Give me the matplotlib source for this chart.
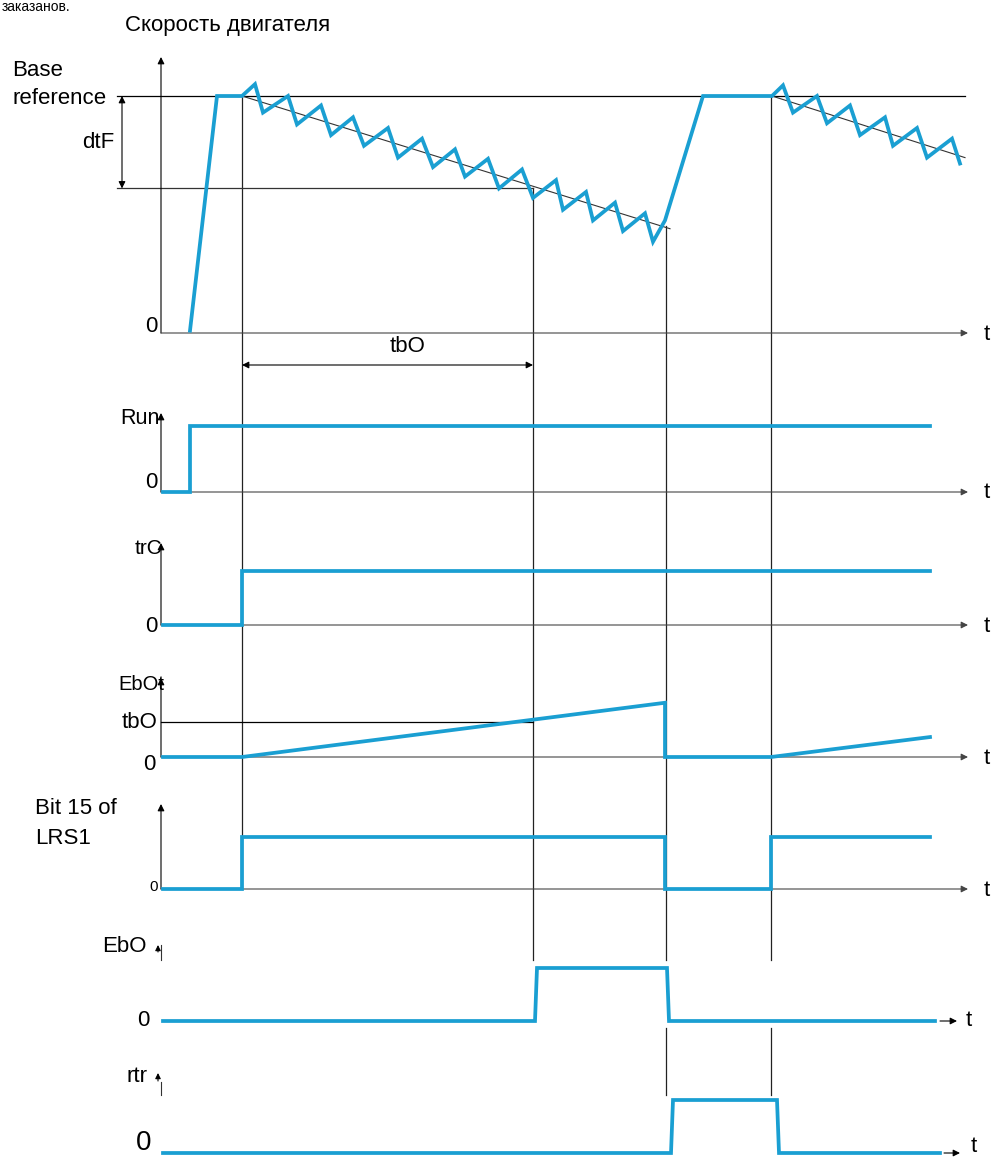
import matplotlib
matplotlib.use("Agg")
import matplotlib.pyplot as plt

plt.rcParams['font.family'] = ['Liberation Sans', 'DejaVu Sans']

# --- данные (время в условных единицах по оси t) ---
t_start = 190      # пуск
t_brake = 242      # начало торможения (trC)
t_tbo = 533        # истекло время tbO
t_reset = 665      # сброс
t_run2 = 771       # повторный старт
t_end = 930

# скорость двигателя, % от Base reference
speed_t = [190, 217, 242, 255, 263, 288, 297, 321, 331, 353, 364, 388, 398, 422, 433,
           455, 465, 488, 499, 522, 533, 556, 563, 586, 593, 615, 623, 645, 653, 665,
           703, 772, 783, 793, 817, 827, 850, 860, 885, 893, 917, 927, 952, 960]
speed_v = [1, 100, 100, 105, 93, 100, 88, 96, 83.5, 91, 79, 86.5, 74, 82, 70,
           77.5, 66, 73.5, 61, 69, 57, 64.5, 52, 59.5, 47.5, 55, 43, 50.5, 38.5, 47.5,
           100, 100, 104.5, 93, 100, 88.5, 96, 83.5, 91, 79, 86.5, 74, 82, 71.5]
trend1_t = [242, 670]
trend1_v = [100, 44]
trend2_t = [772, 965]
trend2_v = [100, 74]
dtf_level = 61

run_t = [163, t_start, t_start, t_end]
run_v = [0, 0, 1, 1]
trc_t = [163, t_brake, t_brake, t_end]
trc_v = [0, 0, 1, 1]
ebot_t = [163, t_brake, t_reset, t_reset, t_run2, t_end]
ebot_v = [0, 0, 1.55, 0, 0, 0.57]     # 1.0 = tbO
bit15_t = [163, t_brake, t_brake, t_reset, t_reset, t_run2, t_run2, t_end]
bit15_v = [0, 0, 1, 1, 0, 0, 1, 1]
ebo_t = [163, 535, 537, 667, 669, 935]
ebo_v = [0, 0, 1, 1, 0, 0]
rtr_t = [163, 671, 673, 777, 779, 940]
rtr_v = [0, 0, 1, 1, 0, 0]

# --- раскладка панелей (пиксели) ---
BLUE = '#1a9fd2'
LW = 2.7
AX = 161
SP0, SP_SCALE = 333, 2.37
FS = 16

fig = plt.figure(figsize=(9.93, 11.6), dpi=100)
ax = fig.add_axes([0, 0, 1, 1])
ax.set_xlim(0, 993)
ax.set_ylim(1160, 0)
ax.axis('off')


def arrow(x0, y0, x1, y1, color='black', lw=0.8, ms=10):
    ax.annotate('', xy=(x1, y1), xytext=(x0, y0),
                arrowprops=dict(arrowstyle='-|>', color=color, lw=lw,
                                mutation_scale=ms, shrinkA=0, shrinkB=0))


def darrow(x0, y0, x1, y1):
    ax.annotate('', xy=(x1, y1), xytext=(x0, y0),
                arrowprops=dict(arrowstyle='<|-|>', color='black', lw=0.8,
                                mutation_scale=10, shrinkA=0, shrinkB=0))


def sp(v):
    return [SP0 - s * SP_SCALE for s in v]


# вертикальные линии событий
vl = dict(color='#222222', lw=0.9, zorder=1)
ax.plot([t_brake, t_brake], [96, 889], **vl)
ax.plot([t_tbo, t_tbo], [sp([dtf_level])[0], 960], **vl)
ax.plot([t_reset + 1, t_reset + 1], [226, 960], **vl)
ax.plot([t_reset + 1, t_reset + 1], [1028, 1095], **vl)
ax.plot([t_run2, t_run2], [96, 960], **vl)
ax.plot([t_run2, t_run2], [1028, 1095], **vl)

# --- скорость ---
ax.text(2, 0, 'заказанов.', fontsize=10, va='top', ha='left')
ax.text(125, 25, 'Скорость двигателя', fontsize=FS, va='center', ha='left')
ax.text(12, 70, 'Base', fontsize=FS, va='center', ha='left')
ax.text(12, 99, 'reference', fontsize=FS, va='center', ha='left')
ax.plot([117, 965], sp([100, 100]), color='black', lw=0.9)
ax.plot([117, t_tbo], sp([dtf_level, dtf_level]), color='#333333', lw=0.9)
darrow(122, sp([100])[0], 122, sp([dtf_level])[0])
ax.text(114, 142, 'dtF', fontsize=FS, va='center', ha='right')
arrow(AX, SP0, AX, 57)
arrow(AX, SP0, 968, SP0, color='#444444')
ax.text(158, 326, '0', fontsize=FS, va='center', ha='right')
ax.text(984, 334, 't', fontsize=FS, va='center', ha='left')
ax.plot(trend1_t, sp(trend1_v), color='#333333', lw=0.8, zorder=2)
ax.plot(trend2_t, sp(trend2_v), color='#333333', lw=0.8, zorder=2)
ax.plot(speed_t, sp(speed_v), color=BLUE, lw=LW, zorder=3, solid_joinstyle='miter')

darrow(t_brake, 365, t_tbo, 365)
ax.text(408, 347, 'tbO', fontsize=FS, va='center', ha='center')


def panel(t, v, zero, high, top):
    arrow(AX, zero, AX, top)
    arrow(AX, zero, 968, zero, color='#444444')
    ax.plot(t, [zero - s * (zero - high) for s in v], color=BLUE, lw=LW,
            zorder=3, solid_joinstyle='miter')
    ax.text(984, zero + 1, 't', fontsize=FS, va='center', ha='left')


# Run
panel(run_t, run_v, 492, 426, 413)
ax.text(160, 418, 'Run', fontsize=15.5, va='center', ha='right')
ax.text(157, 482, '0', fontsize=FS, va='center', ha='right')

# trC
panel(trc_t, trc_v, 625, 571, 543)
ax.text(162, 549, 'trC', fontsize=15, va='center', ha='right')
ax.text(157, 626, '0', fontsize=FS, va='center', ha='right')

# EbOt
ax.plot([AX, t_tbo], [722, 722], color='black', lw=0.9)
panel(ebot_t, ebot_v, 757, 722, 678)
ax.text(164, 684, 'EbOt', fontsize=14.5, va='center', ha='right')
ax.text(158, 722, 'tbO', fontsize=FS, va='center', ha='right')
ax.text(156, 764, '0', fontsize=FS, va='center', ha='right')

# Bit 15 of LRS1
panel(bit15_t, bit15_v, 889, 837, 804)
ax.text(35, 809, 'Bit 15 of', fontsize=FS, va='center', ha='left')
ax.text(35, 838, 'LRS1', fontsize=FS, va='center', ha='left')
ax.text(158, 887, '0', fontsize=11, va='center', ha='right')

# EbO
ax.plot(ebo_t, [1021 - s * 53 for s in ebo_v], color=BLUE, lw=LW, zorder=3,
        solid_joinstyle='miter')
arrow(940, 1021, 957, 1021)
ax.plot([AX, AX], [945, 960], color='#333333', lw=0.8)
arrow(158, 952, 158, 945, ms=8)
ax.text(147, 947, 'EbO', fontsize=FS, va='center', ha='right')
ax.text(149, 1020, '0', fontsize=FS, va='center', ha='right')
ax.text(966, 1020, 't', fontsize=FS, va='center', ha='left')

# rtr
ax.plot(rtr_t, [1153 - s * 53 for s in rtr_v], color=BLUE, lw=LW, zorder=3,
        solid_joinstyle='miter')
arrow(944, 1153, 960, 1153)
ax.plot([AX, AX], [1082, 1095], color='#333333', lw=0.8)
arrow(158, 1081, 158, 1073, ms=8)
ax.text(147, 1076, 'rtr', fontsize=FS, va='center', ha='right')
ax.text(151, 1143, '0', fontsize=20, va='center', ha='right')
ax.text(971, 1147, 't', fontsize=FS, va='center', ha='left')

fig.savefig('out.png', dpi=100)
